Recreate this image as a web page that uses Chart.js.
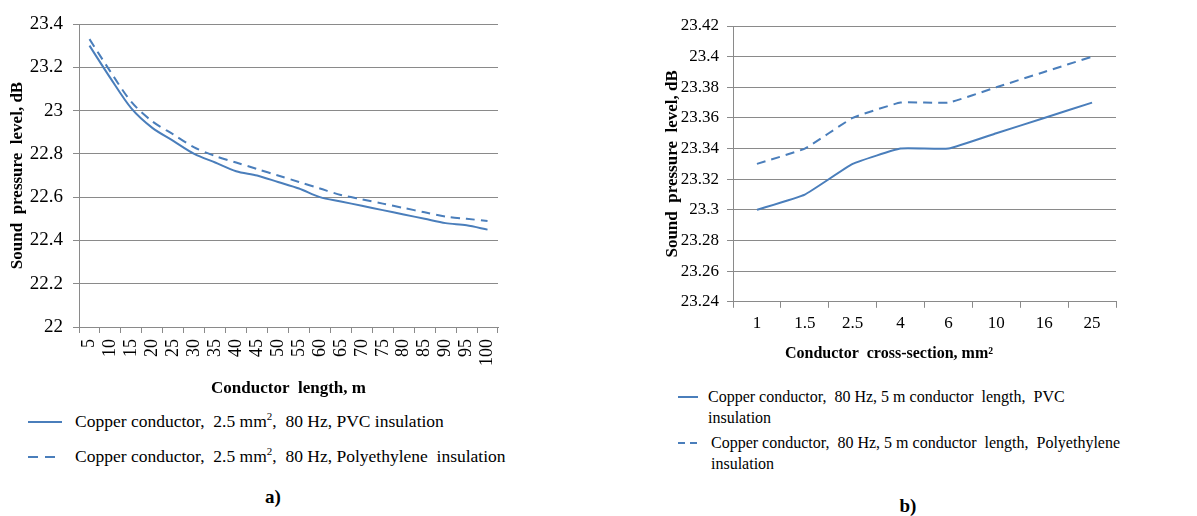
<!DOCTYPE html>
<html>
<head>
<meta charset="utf-8">
<script src="https://cdn.jsdelivr.net/npm/chart.js@4"></script>
<style>
  body { margin: 0; background: #fff; width: 1197px; height: 516px; position: relative; overflow: hidden;
         font-family: "Liberation Serif", "DejaVu Serif", serif; color: #000; }
  canvas { position: absolute; }
  .leg { position: absolute; line-height: 21px; white-space: nowrap; }
  .leg svg { position: absolute; }
  .cap { position: absolute; font-weight: bold; font-size: 19px; transform: translateX(-50%); }
  sup { font-size: 11px; line-height: 0; }
</style>
</head>
<body>
<canvas id="chartA" width="520" height="400" style="left:0;top:0"></canvas>
<canvas id="chartB" width="597" height="370" style="left:600px;top:0"></canvas>

<div class="leg" style="left:0;top:411px;font-size:17.5px">
  <svg width="70" height="60" style="left:0;top:0">
    <line x1="28" y1="11" x2="62" y2="11" stroke="#4a7ebb" stroke-width="2"/>
    <line x1="28" y1="46" x2="62" y2="46" stroke="#4a7ebb" stroke-width="2" stroke-dasharray="10,7"/>
  </svg>
  <div style="position:absolute;left:75px;top:0">Copper conductor,&nbsp; 2.5 mm<sup>2</sup>,&nbsp; 80 Hz, PVC insulation</div>
  <div style="position:absolute;left:75px;top:35px">Copper conductor,&nbsp; 2.5 mm<sup>2</sup>,&nbsp; 80 Hz, Polyethylene&nbsp; insulation</div>
</div>
<div class="cap" style="left:273px;top:486px">a)</div>

<div class="leg" style="left:600px;top:386px;font-size:16px">
  <svg width="110" height="80" style="left:0;top:0">
    <line x1="78" y1="11" x2="98" y2="11" stroke="#4a7ebb" stroke-width="2"/>
    <line x1="78" y1="57" x2="98" y2="57" stroke="#4a7ebb" stroke-width="2" stroke-dasharray="7,5"/>
  </svg>
  <div style="position:absolute;left:108px;top:0">Copper conductor,&nbsp; 80 Hz, 5 m conductor&nbsp; length,&nbsp; PVC<br>insulation</div>
  <div style="position:absolute;left:111px;top:46px">Copper conductor,&nbsp; 80 Hz, 5 m conductor&nbsp; length,&nbsp; Polyethylene<br>insulation</div>
</div>
<div class="cap" style="left:908px;top:495px">b)</div>

<script>
// a) sound level vs conductor length
const lengths = ['5', '10', '15', '20', '25', '30', '35', '40', '45', '50',
                 '55', '60', '65', '70', '75', '80', '85', '90', '95', '100'];
const pvcByLength = [23.30, 23.15, 23.01, 22.92, 22.86, 22.80, 22.76, 22.72, 22.70, 22.67,
                     22.64, 22.60, 22.58, 22.56, 22.54, 22.52, 22.50, 22.48, 22.47, 22.45];
const peByLength = [23.33, 23.18, 23.04, 22.95, 22.89, 22.83, 22.79, 22.76, 22.73, 22.70,
                    22.67, 22.64, 22.61, 22.59, 22.57, 22.55, 22.53, 22.51, 22.50, 22.49];

// b) sound level vs cross-section
const sections = ['1', '1.5', '2.5', '4', '6', '10', '16', '25'];
const pvcBySection = [23.30, 23.31, 23.33, 23.34, 23.34, 23.35, 23.36, 23.37];
const peBySection = [23.33, 23.34, 23.36, 23.37, 23.37, 23.38, 23.39, 23.40];

const blue = '#4a7ebb';
const grey = '#8a8a8a';
const serif = '"Liberation Serif", "DejaVu Serif", serif';
const fmt = v => String(Number(v.toFixed(2)));

Chart.defaults.color = '#000';
Chart.defaults.font.family = serif;

new Chart(document.getElementById('chartA'), {
    type: 'line',
    data: {
        labels: lengths,
        datasets: [
            { data: pvcByLength, borderColor: blue, borderWidth: 2, pointRadius: 0, tension: 0.3 },
            { data: peByLength, borderColor: blue, borderWidth: 2, pointRadius: 0, tension: 0.3, borderDash: [9, 6] }
        ]
    },
    options: {
        responsive: false,
        animation: false,
        layout: { padding: { left: 0, top: 24, right: 22, bottom: 0 } },
        plugins: { legend: { display: false }, tooltip: { enabled: false } },
        scales: {
            x: {
                offset: true,
                grid: { offset: true, drawOnChartArea: false, color: grey, tickLength: 6 },
                border: { color: grey },
                ticks: { autoSkip: false, minRotation: 90, maxRotation: 90, padding: 6, font: { size: 18 } },
                title: { display: true, text: 'Conductor  length, m', font: { size: 17, weight: 'bold' }, padding: { top: 0, bottom: 1 } },
                afterFit: s => { s.height = 73; }
            },
            y: {
                min: 22, max: 23.4,
                grid: { color: grey, tickLength: 6 },
                border: { color: grey },
                ticks: { stepSize: 0.2, padding: 10, font: { size: 19 }, callback: fmt },
                title: { display: true, text: 'Sound  pressure  level, dB', font: { size: 17, weight: 'bold' }, padding: { top: 7, bottom: 0 } },
                afterFit: s => { s.width = 79; }
            }
        }
    }
});

new Chart(document.getElementById('chartB'), {
    type: 'line',
    data: {
        labels: sections,
        datasets: [
            { data: pvcBySection, borderColor: blue, borderWidth: 2, pointRadius: 0, tension: 0.12 },
            { data: peBySection, borderColor: blue, borderWidth: 2, pointRadius: 0, tension: 0.12, borderDash: [9, 6] }
        ]
    },
    options: {
        responsive: false,
        animation: false,
        layout: { padding: { left: 62, top: 26, right: 81, bottom: 7 } },
        plugins: {
            legend: { display: false },
            tooltip: { enabled: false },
            title: {
                display: true, position: 'bottom',
                text: 'Conductor  cross-section, mm²',
                font: { size: 16, weight: 'bold' },
                padding: { top: 7, bottom: 0 }
            }
        },
        scales: {
            x: {
                offset: true,
                grid: { offset: true, drawOnChartArea: false, color: grey, tickLength: 6 },
                border: { color: grey },
                ticks: { autoSkip: false, maxRotation: 0, padding: 6, font: { size: 17 } },
                afterFit: s => { s.height = 35; }
            },
            y: {
                min: 23.24, max: 23.42,
                grid: { color: grey, tickLength: 6 },
                border: { color: grey },
                ticks: { stepSize: 0.02, padding: 8, font: { size: 17 }, callback: fmt },
                title: { display: true, text: 'Sound  pressure  level, dB', font: { size: 17, weight: 'bold' }, padding: { top: 0, bottom: 0 } },
                afterFit: s => { s.width = 71; }
            }
        }
    }
});
</script>
</body>
</html>
